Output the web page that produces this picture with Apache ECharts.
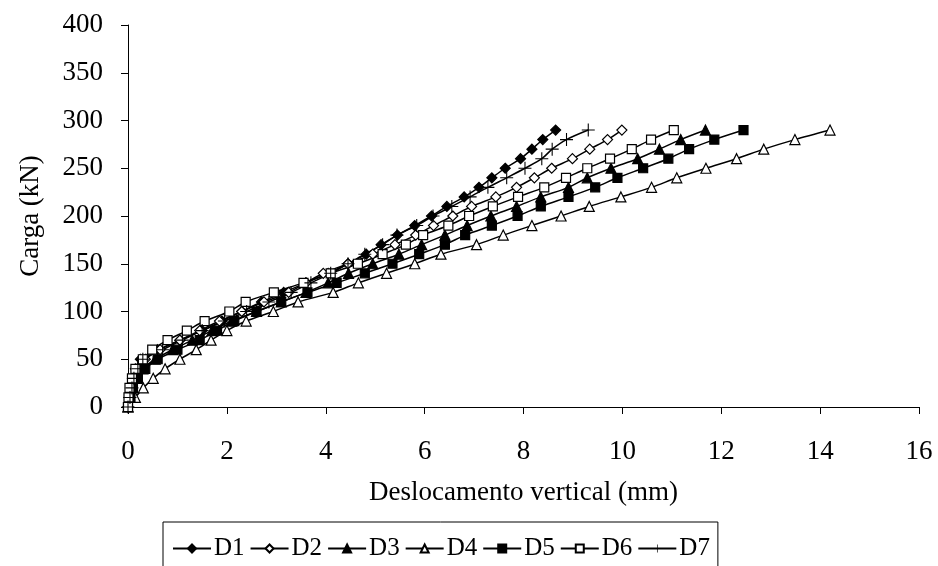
<!DOCTYPE html>
<html>
<head>
<meta charset="utf-8">
<script src="https://cdn.jsdelivr.net/npm/echarts@6/dist/echarts.min.js"></script>
<style>
html,body{margin:0;padding:0;background:#fff;}
#chart{width:938px;height:566px;}
</style>
</head>
<body>
<div id="chart"></div>
<script>
// Load levels (kN), shared by all series
var loads = [0,10,20,30,40,50,60,70,80,90,100,110,120,130,140,150,160,170,180,190,200,210,220,230,240,250,260,270,280,290];
// Vertical displacement (mm) for each series at each load level
var D1 = [0,0.02,0.05,0.09,0.15,0.25,0.60,1.05,1.50,1.90,2.30,2.70,3.15,3.60,4.05,4.45,4.82,5.12,5.45,5.80,6.14,6.45,6.80,7.10,7.36,7.63,7.94,8.17,8.39,8.65];
var D2 = [0,0.03,0.07,0.12,0.20,0.35,0.65,1.05,1.45,1.85,2.30,2.75,3.25,3.60,3.95,4.45,4.95,5.40,5.82,6.18,6.57,6.95,7.44,7.86,8.22,8.57,8.99,9.34,9.70,9.99];
var D3 = [0,0.05,0.10,0.18,0.30,0.55,0.90,1.30,1.70,2.10,2.60,3.10,3.60,4.05,4.46,4.95,5.48,5.94,6.41,6.86,7.34,7.86,8.35,8.91,9.29,9.77,10.31,10.75,11.18,11.68];
var D4 = [0,0.15,0.31,0.51,0.75,1.05,1.38,1.68,2.00,2.39,2.94,3.44,4.15,4.66,5.23,5.80,6.33,7.05,7.59,8.17,8.76,9.33,9.97,10.59,11.10,11.69,12.31,12.86,13.49,14.20];
var D5 = [0,0.05,0.10,0.20,0.35,0.60,1.00,1.45,1.80,2.15,2.60,3.10,3.63,4.22,4.79,5.35,5.89,6.41,6.82,7.36,7.88,8.35,8.91,9.45,9.90,10.42,10.93,11.35,11.86,12.45];
var D6 = [0,0.01,0.03,0.08,0.15,0.30,0.49,0.80,1.19,1.55,2.05,2.38,2.95,3.55,4.10,4.65,5.15,5.62,5.97,6.48,6.90,7.38,7.89,8.42,8.86,9.29,9.75,10.19,10.58,11.04];
var D7 = [0,0.04,0.08,0.12,0.20,0.30,0.70,1.10,1.50,1.95,2.40,2.85,3.30,3.70,4.10,4.45,4.79,5.15,5.44,5.84,6.17,6.55,6.92,7.28,7.66,8.03,8.37,8.58,8.87,9.31];
var seriesNames = ['D1','D2','D3','D4','D5','D6','D7'];
var xTicks = {min:0, max:16, interval:2};
var yTicks = {min:0, max:400, interval:50};

var FONT = "'Liberation Serif','Times New Roman',serif";
var plus = 'path://M11,0H13V11H24V13H13V24H11V13H0V11H11Z';
var styles = {
  D1:{symbol:'diamond', size:10, fill:'#000'},
  D2:{symbol:'diamond', size:10, fill:'#fff'},
  D3:{symbol:'triangle', size:10, fill:'#000'},
  D4:{symbol:'triangle', size:10, fill:'#fff'},
  D5:{symbol:'rect', size:9, fill:'#000'},
  D6:{symbol:'rect', size:9, fill:'#fff'},
  D7:{symbol:plus, size:13, fill:'#000'}
};
var dataMap = {D1:D1,D2:D2,D3:D3,D4:D4,D5:D5,D6:D6,D7:D7};

function pairs(xs){ return xs.map(function(x,i){ return [x, loads[i]]; }); }

var series = seriesNames.map(function(n){
  var s = styles[n];
  return {
    name:n, type:'line', data:pairs(dataMap[n]),
    smooth:0.3, symbol:s.symbol, symbolSize:s.size, showAllSymbol:true,
    lineStyle:{color:'#000', width:1.5},
    itemStyle:{color:s.fill, borderColor:'#000', borderWidth: n==='D7'?0:1.2},
    emphasis:{disabled:true}, animation:false
  };
});

var chart = echarts.init(document.getElementById('chart'), null, {renderer:'canvas'});
chart.setOption({
  animation:false,
  backgroundColor:'#fff',
  grid:{left:128, right:19, top:25, bottom:159, containLabel:false},
  xAxis:{
    type:'value', min:xTicks.min, max:xTicks.max, interval:xTicks.interval,
    name:'Deslocamento vertical (mm)', nameLocation:'middle', nameGap:72,
    nameTextStyle:{fontFamily:FONT, fontSize:27, color:'#000'},
    axisLine:{lineStyle:{color:'#000', width:1}},
    axisTick:{show:true, inside:false, length:7, lineStyle:{color:'#000'}},
    axisLabel:{fontFamily:FONT, fontSize:27, color:'#000', margin:31},
    splitLine:{show:false}
  },
  yAxis:{
    type:'value', min:yTicks.min, max:yTicks.max, interval:yTicks.interval,
    name:'Carga (kN)', nameLocation:'middle', nameGap:84,
    nameTextStyle:{fontFamily:FONT, fontSize:27, color:'#000'},
    axisLine:{show:true, lineStyle:{color:'#000', width:1}},
    axisTick:{show:true, inside:false, length:7, lineStyle:{color:'#000'}},
    axisLabel:{fontFamily:FONT, fontSize:27, color:'#000', margin:25},
    splitLine:{show:false}
  },
  legend:{
    data:seriesNames, orient:'horizontal', left:163, top:522,
    itemWidth:38, itemHeight:10, itemGap:5,
    padding:[14,8,30,9],
    borderColor:'#000', borderWidth:1,
    textStyle:{fontFamily:FONT, fontSize:25, color:'#000', padding:[0,0,0,-2]}
  },
  series:series
});
</script>
</body>
</html>
